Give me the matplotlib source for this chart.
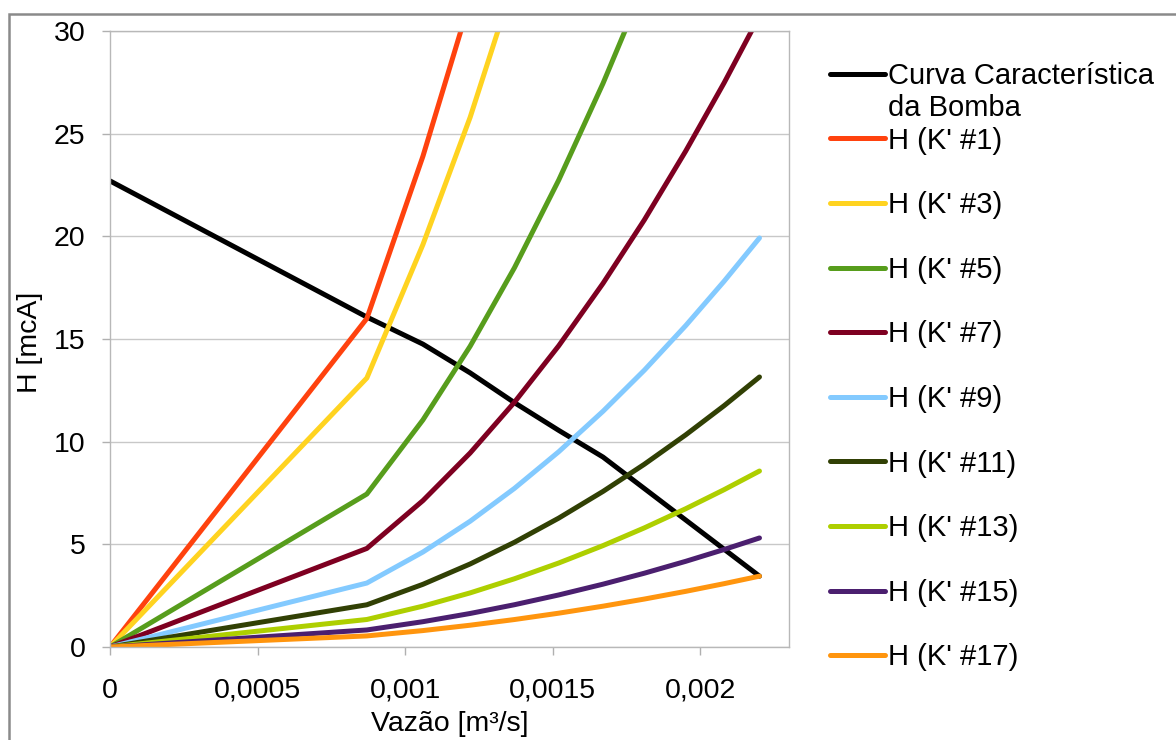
import matplotlib
matplotlib.use('Agg')
import matplotlib.pyplot as plt
from matplotlib.patches import Rectangle

plt.rcParams['font.family'] = ['Liberation Sans', 'DejaVu Sans']

# ---- data ----
vazao = [0, 0.00087, 0.00106, 0.00122, 0.00137, 0.00152, 0.00167, 0.00181, 0.00195, 0.00208, 0.0022]
vazao_bomba = [0, 0.00087, 0.00106, 0.00122, 0.00137, 0.00152, 0.00167, 0.0022]
h_bomba = [22.7, 16.07, 14.75, 13.35, 11.9, 10.55, 9.25, 3.45]

h_k1 = [0, 16.0, 23.9, 31.5, 39.7, 48.8, 59.0, 69.3, 80.4, 91.5, 102.3]
h_k3 = [0, 13.1, 19.6, 25.8, 32.5, 40.0, 48.3, 56.7, 65.8, 74.9, 83.8]
h_k5 = [0, 7.45, 11.06, 14.65, 18.47, 22.74, 27.45, 32.25, 37.43, 42.58, 47.64]
h_k7 = [0, 4.8, 7.13, 9.45, 11.92, 14.67, 17.71, 20.8, 24.15, 27.47, 30.73]
h_k9 = [0, 3.115, 4.625, 6.126, 7.725, 9.51, 11.48, 13.48, 15.65, 17.81, 19.92]
h_k11 = [0, 2.056, 3.053, 4.044, 5.10, 6.277, 7.577, 8.90, 10.33, 11.75, 13.15]
h_k13 = [0, 1.34, 1.99, 2.636, 3.323, 4.091, 4.938, 5.801, 6.733, 7.661, 8.57]
h_k15 = [0, 0.83, 1.233, 1.633, 2.059, 2.535, 3.06, 3.594, 4.172, 4.747, 5.31]
h_k17 = [0, 0.54, 0.80, 1.061, 1.338, 1.647, 1.988, 2.335, 2.71, 3.084, 3.45]

series_labels = ["H (K' #1)", "H (K' #3)", "H (K' #5)", "H (K' #7)", "H (K' #9)",
                 "H (K' #11)", "H (K' #13)", "H (K' #15)", "H (K' #17)"]
series_values = [h_k1, h_k3, h_k5, h_k7, h_k9, h_k11, h_k13, h_k15, h_k17]
series_colors = ['#ff420e', '#ffd320', '#579d1c', '#7e0021', '#83caff',
                 '#314004', '#aecf00', '#4b1f6f', '#ff950e']

bomba_label = 'Curva Característica'
bomba_label2 = 'da Bomba'

x_ticks = [0, 0.0005, 0.001, 0.0015, 0.002]
x_ticklabels = ['0', '0,0005', '0,001', '0,0015', '0,002']
y_ticks = [0, 5, 10, 15, 20, 25, 30]
y_ticklabels = ['0', '5', '10', '15', '20', '25', '30']

# ---- figure ----
W, H = 1176, 740
fig = plt.figure(figsize=(W / 100, H / 100), dpi=100)
fs = 20.5
fs_leg = 21

fig.add_artist(Rectangle((8.5 / W, -0.1), 1.2, 1 - 14 / H + 0.1,
                         transform=fig.transFigure, fill=False,
                         edgecolor='#8a8a8a', linewidth=1.8, clip_on=False))

ax = fig.add_axes([110 / W, 1 - 647 / H, 679 / W, 616 / H])
lw = 3.6
ax.plot(vazao_bomba, h_bomba, color='black', lw=lw, label=bomba_label,
        solid_capstyle='round', solid_joinstyle='round')
for vals, lab, col in zip(series_values, series_labels, series_colors):
    ax.plot(vazao, vals, color=col, lw=lw, label=lab,
            solid_capstyle='round', solid_joinstyle='round')

ax.set_xlim(0, 0.0023)
ax.set_ylim(0, 30)
ax.set_xticks(x_ticks)
ax.set_xticklabels(x_ticklabels)
ax.set_yticks(y_ticks)
ax.set_yticklabels(y_ticklabels)
ax.yaxis.grid(True, color='#c8c8c8', linewidth=1)
ax.set_axisbelow(True)
for sp in ax.spines.values():
    sp.set_color('#b8b8b8')
    sp.set_linewidth(1)
ax.tick_params(axis='both', direction='out', length=6, width=1,
               color='#b0b0b0', labelsize=fs)
ax.tick_params(axis='x', pad=16)
ax.tick_params(axis='y', pad=11.5)

ax.set_xlabel('Vazão [m³/s]', fontsize=fs)
ax.set_ylabel('H [mcA]', fontsize=fs)
ax.xaxis.set_label_coords(0.5, -(711 - 647) / 616)
ax.yaxis.set_label_coords((43 - 110) / 679, 0.495)

leg = ax.legend(loc='upper left', bbox_to_anchor=(830 / W, 1 - 62 / H),
                bbox_transform=fig.transFigure, frameon=False, borderpad=0,
                borderaxespad=0, handlelength=1.9, handletextpad=0.1,
                labelspacing=1.255, fontsize=fs_leg)

fig.canvas.draw()
t0 = leg.get_texts()[0]
bb = t0.get_window_extent()
fig.text(bb.x0 / W, (bb.y0 - 32) / H, bomba_label2, ha='left', va='bottom',
         fontsize=fs_leg)

fig.savefig('out.png', dpi=100)
